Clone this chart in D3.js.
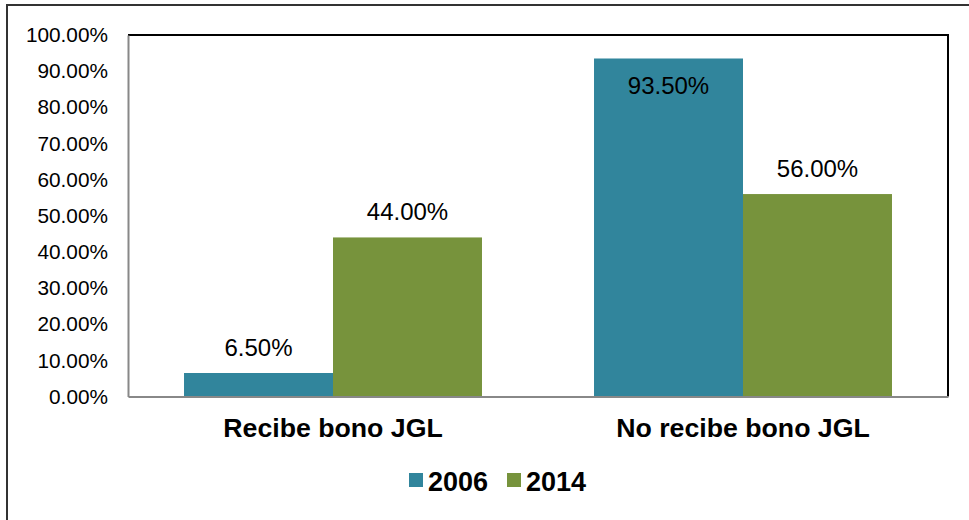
<!DOCTYPE html>
<html><head><meta charset="utf-8">
<script src="https://cdn.jsdelivr.net/npm/d3@7"></script>
<style>body{margin:0;background:#fff}svg{display:block;font-family:"Liberation Sans",Arial,sans-serif}</style>
</head><body>
<svg id="c" width="969" height="520"></svg>
<script>
const categories = ["Recibe bono JGL", "No recibe bono JGL"];
const seriesNames = ["2006", "2014"];
const values2006 = [6.5, 93.5];
const values2014 = [44.0, 56.0];
const yTicks = [0,10,20,30,40,50,60,70,80,90,100];
const colors = ["#31859C", "#77933C"];

const svg = d3.select("#c");
const m = {l:128, t:35, r:948, b:396.5};

svg.append("rect").attr("x",7).attr("y",5).attr("width",1100).attr("height",1100)
  .attr("fill","none").attr("stroke","#333").attr("stroke-width",2);

const x0 = d3.scaleBand().domain(categories).range([m.l, m.r]).paddingInner(0).paddingOuter(0);
const x1 = d3.scaleBand().domain(seriesNames).range([0, x0.bandwidth()]).paddingInner(0).paddingOuter(0.376);
const y = d3.scaleLinear().domain([0,100]).range([m.b, m.t]);

const data = categories.map((c,i)=>({cat:c, vals:[values2006[i], values2014[i]]}));

const g = svg.append("g");
data.forEach(d=>{
  d.vals.forEach((v,j)=>{
    const s = seriesNames[j];
    const bx = x0(d.cat)+x1(s);
    g.append("rect").attr("x",bx).attr("y",y(v)).attr("width",x1.bandwidth())
      .attr("height",y(0)-y(v)).attr("fill",colors[j]);
    const inside = v > 90;
    g.append("text").attr("x",bx+x1.bandwidth()/2)
      .attr("y", inside ? y(v)+36 : y(v)-17)
      .attr("text-anchor","middle").attr("font-size",24).attr("fill","#000")
      .text(v.toFixed(2)+"%");
  });
});

// plot border
svg.append("line").attr("x1",m.l).attr("x2",m.r).attr("y1",m.t).attr("y2",m.t).attr("stroke","#000").attr("stroke-width",2);
svg.append("line").attr("x1",m.r).attr("x2",m.r).attr("y1",m.t-1).attr("y2",m.b).attr("stroke","#000").attr("stroke-width",2);

// axes
const yAxis = d3.axisLeft(y).tickValues(yTicks).tickSize(0).tickPadding(20).tickFormat(d=>d.toFixed(2)+"%");
const ya = svg.append("g").attr("transform",`translate(${m.l},0)`).call(yAxis);
ya.select(".domain").attr("stroke","#888").attr("stroke-width",2);
ya.selectAll("text").attr("font-size",20.8).attr("fill","#000").attr("font-family","Liberation Sans, Arial, sans-serif");

const xAxis = d3.axisBottom(x0).tickSize(0).tickPadding(22);
const xa = svg.append("g").attr("transform",`translate(0,${m.b})`).call(xAxis);
xa.select(".domain").attr("stroke","#888").attr("stroke-width",2);
xa.selectAll("text").attr("font-size",26.7).attr("font-weight","bold").attr("fill","#000").attr("font-family","Liberation Sans, Arial, sans-serif");

// legend
const legX = [409, 507];
seriesNames.forEach((s,j)=>{
  svg.append("rect").attr("x",legX[j]).attr("y",473).attr("width",14).attr("height",14).attr("fill",colors[j]);
  svg.append("text").attr("x",legX[j]+19).attr("y",491).attr("font-size",27).attr("font-weight","bold").attr("fill","#000").text(s);
});
</script>
</body></html>
